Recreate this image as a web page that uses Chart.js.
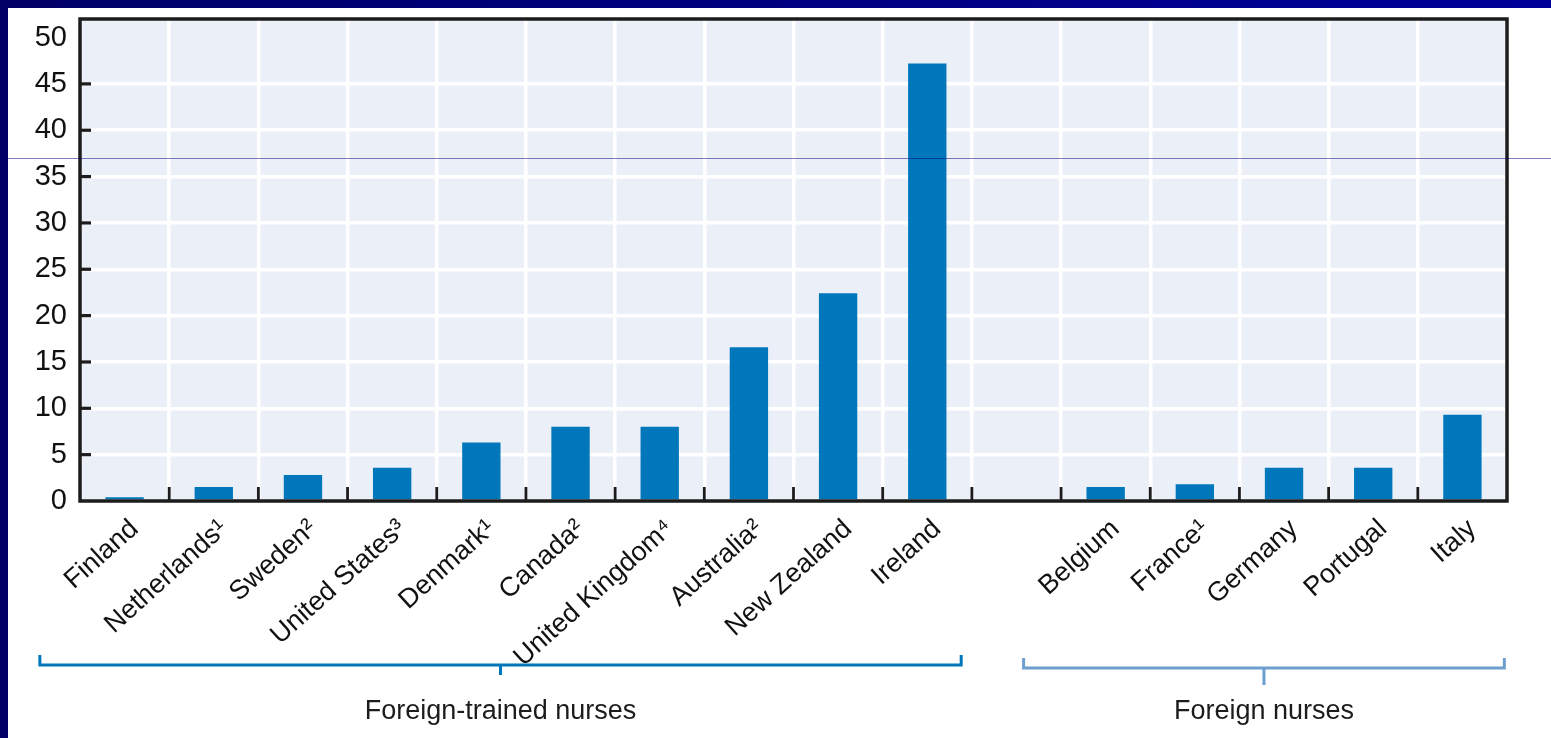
<!DOCTYPE html>
<html>
<head>
<meta charset="utf-8">
<script src="https://cdn.jsdelivr.net/npm/chart.js@4.4.1/dist/chart.umd.min.js"></script>
<style>
  html, body { margin: 0; padding: 0; background: #fff; }
  body { width: 1551px; height: 738px; position: relative; overflow: hidden; }
  #topbar { position: absolute; left: 0; top: 0; width: 1551px; height: 8px; background: linear-gradient(to right, #000066, #000099); }
  #leftbar { position: absolute; left: 0; top: 0; width: 8px; height: 738px; background: #000066; }
  #wrap { position: absolute; left: 8px; top: 8px; width: 1543px; height: 730px; }
  #scanline { position: absolute; left: 8px; top: 158px; width: 1543px; height: 1px; background: rgba(0, 0, 128, 0.5); pointer-events: none; }
</style>
</head>
<body>
<div id="topbar"></div>
<div id="leftbar"></div>
<div id="wrap"><canvas id="nurses-chart"></canvas></div>
<div id="scanline"></div>
<script>
// 외국 간호사 비율(%) — 두 그룹 사이에 빈 칸 하나
const countries = [
  'Finland', 'Netherlands\u00b9', 'Sweden\u00b2', 'United States\u00b3', 'Denmark\u00b9',
  'Canada\u00b2', 'United Kingdom\u2074', 'Australia\u00b2', 'New Zealand', 'Ireland',
  '',
  'Belgium', 'France\u00b9', 'Germany', 'Portugal', 'Italy',
];
const shares = [0.4, 1.5, 2.8, 3.6, 6.3, 8.0, 8.0, 16.6, 22.4, 47.2, null, 1.5, 1.8, 3.6, 3.6, 9.3];
const yTicks = [0, 5, 10, 15, 20, 25, 30, 35, 40, 45, 50];
const groupNames = ['Foreign-trained nurses', 'Foreign nurses'];
const groupSpans = [[0, 9], [11, 15]]; // 카테고리 인덱스 (처음, 끝)

(function () {
  'use strict';

  const FONT = "'Liberation Sans', Arial, sans-serif";
  const BAR = '#0077bb';
  const PLOT_BG = '#eaeff8';
  const INK = '#1c1c1c';

  // 플롯 배경, 테두리, 안쪽 눈금, 아래쪽 그룹 괄호
  const decor = {
    id: 'decor',
    beforeDraw(chart) {
      const { ctx, chartArea: a } = chart;
      ctx.save();
      ctx.fillStyle = PLOT_BG;
      ctx.fillRect(a.left, a.top, a.right - a.left, a.bottom - a.top);
      ctx.restore();
    },
    afterDatasetsDraw(chart) {
      const { ctx, chartArea: a, scales: { y } } = chart;
      ctx.save();
      ctx.strokeStyle = INK;
      ctx.fillStyle = INK;
      // y 눈금: 축에서 안쪽으로
      yTicks.forEach(v => {
        if (v === 0 || v === 50) return;
        const py = y.getPixelForValue(v);
        ctx.fillRect(a.left, py - 1.6, 11, 3.2);
      });
      // x 눈금: 카테고리 경계에서 위로
      const step = (a.right - a.left) / countries.length;
      for (let k = 1; k < countries.length; k++) {
        const px = a.left + k * step;
        ctx.fillRect(px - 1.4, a.bottom - 14, 2.8, 14);
      }
      ctx.lineWidth = 3.5;
      ctx.strokeRect(a.left, a.top, a.right - a.left, a.bottom - a.top);
      ctx.restore();
    },
    afterDraw(chart) {
      const { ctx, scales: { x } } = chart;
      const step = x.getPixelForValue(1) - x.getPixelForValue(0);
      const specs = [
        { lo: -0.95, hi: 0.38, y: 657, color: '#0077bb', drop: 10 },
        { lo: -0.92, hi: 0.47, y: 660, color: '#6c9fcf', drop: 17 },
      ];
      ctx.save();
      groupSpans.forEach(([i0, i1], g) => {
        const s = specs[g];
        const l = x.getPixelForValue(i0) + s.lo * step;
        const r = x.getPixelForValue(i1) + s.hi * step;
        const c = (l + r) / 2;
        ctx.strokeStyle = s.color;
        ctx.lineWidth = 3;
        ctx.beginPath();
        ctx.moveTo(l, s.y - 10);
        ctx.lineTo(l, s.y);
        ctx.lineTo(r, s.y);
        ctx.lineTo(r, s.y - 10);
        ctx.moveTo(c, s.y);
        ctx.lineTo(c, s.y + s.drop);
        ctx.stroke();
        ctx.fillStyle = INK;
        ctx.font = `27px ${FONT}`;
        ctx.textAlign = 'center';
        ctx.textBaseline = 'middle';
        ctx.fillText(groupNames[g], c, 704);
      });
      ctx.restore();
    },
  };

  new Chart(document.getElementById('nurses-chart'), {
    type: 'bar',
    data: {
      labels: countries,
      datasets: [{
        data: shares,
        backgroundColor: BAR,
        borderWidth: 0,
        barPercentage: 0.43,
        categoryPercentage: 1,
      }],
    },
    options: {
      responsive: true,
      maintainAspectRatio: false,
      animation: false,
      layout: { padding: { top: 11, right: 44, left: 0, bottom: 0 } },
      plugins: { legend: { display: false }, tooltip: { enabled: false } },
      scales: {
        x: {
          grid: { offset: true, color: '#ffffff', lineWidth: 3.5, drawTicks: false },
          border: { display: false },
          ticks: {
            color: '#111', font: { family: FONT, size: 27 },
            minRotation: 42, maxRotation: 42, padding: 12, labelOffset: 10, autoSkip: false,
          },
          afterFit(scale) { scale.height = 237; },
        },
        y: {
          min: 0,
          max: 52,
          grid: {
            color: c => (c.tick.value === 50 || c.tick.value === 0) ? 'rgba(0,0,0,0)' : '#ffffff',
            lineWidth: 3.5,
            drawTicks: false,
          },
          border: { display: false },
          ticks: { color: '#111', font: { family: FONT, size: 29 }, padding: 13 },
          afterBuildTicks(scale) { scale.ticks = yTicks.map(v => ({ value: v })); },
          afterFit(scale) {
            scale.width = 72;
            scale.paddingTop = 0;
            scale.paddingBottom = 0;
          },
        },
      },
    },
    plugins: [decor],
  });
})();
</script>
</body>
</html>
